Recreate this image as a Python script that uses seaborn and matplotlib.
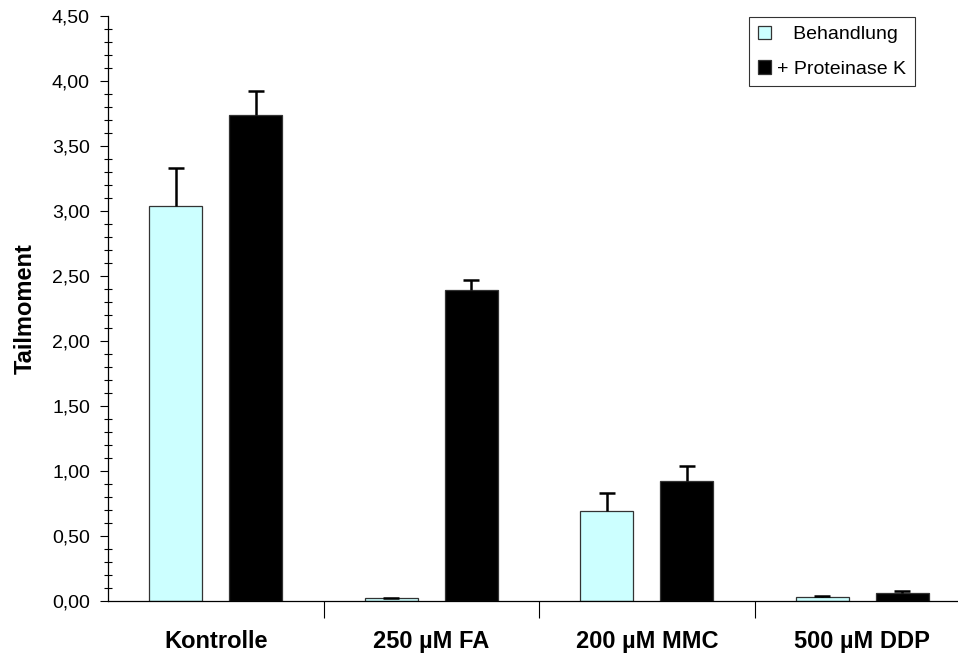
import numpy as np
import pandas as pd
import matplotlib
matplotlib.use("Agg")
import matplotlib.pyplot as plt
import seaborn as sns
from matplotlib.ticker import FuncFormatter, MultipleLocator, FixedLocator

categories = ["Kontrolle", "250 µM FA", "200 µM MMC", "500 µM DDP"]
series = ["Behandlung", "+ Proteinase K"]
behandlung = [3.04, 0.02, 0.69, 0.03]
behandlung_err = [0.29, 0.005, 0.14, 0.01]
proteinase = [3.74, 2.39, 0.92, 0.06]
proteinase_err = [0.18, 0.08, 0.12, 0.02]
colors = ["#CCFFFF", "#000000"]

sns.set_style("white")
plt.rcParams["font.family"] = ["Liberation Sans", "DejaVu Sans"]
for k in ["text.color", "axes.labelcolor", "xtick.color", "ytick.color"]:
    plt.rcParams[k] = "black"

df = pd.DataFrame({
    "Kategorie": categories * 2,
    "Serie": [series[0]] * 4 + [series[1]] * 4,
    "Wert": behandlung + proteinase,
})

fig = plt.figure(figsize=(9.58, 6.57), dpi=100)
ax = fig.add_axes([108 / 958, 56 / 657, (970 - 108) / 958, (601 - 16) / 657])

sns.barplot(data=df, x="Kategorie", y="Wert", hue="Serie", palette=colors,
            order=categories, hue_order=series, width=0.743, gap=0.337,
            saturation=1, edgecolor="#333333", linewidth=0.9, errorbar=None,
            ax=ax)

# error bars (upward only)
errs = [behandlung_err, proteinase_err]
vals = [behandlung, proteinase]
bar_containers = list(ax.containers)
for si, cont in enumerate(bar_containers):
    for bi, patch in enumerate(cont.patches):
        xc = patch.get_x() + patch.get_width() / 2
        eb = ax.errorbar(xc, vals[si][bi], yerr=[[0], [errs[si][bi]]], fmt="none",
                         ecolor="black", elinewidth=1.8, capsize=5.8, capthick=1.8,
                         zorder=1)
        caps = eb[1]
        if len(caps) == 2:
            caps[0].set_visible(False)

ax.set_ylim(0, 4.5)
ax.set_xlim(-0.5, 3.5)
ax.yaxis.set_major_locator(MultipleLocator(0.5))
ax.yaxis.set_minor_locator(MultipleLocator(0.1))
ax.yaxis.set_major_formatter(FuncFormatter(lambda v, p: f"{v:.2f}".replace(".", ",")))
ax.tick_params(axis="y", which="major", direction="out", length=6, width=0.8,
               labelsize=14, left=True, pad=7)
ax.tick_params(axis="y", which="minor", direction="inout", length=6, width=0.8, left=True)

# x: labels at centers, ticks at boundaries
ax.xaxis.set_major_locator(FixedLocator([0.5, 1.5, 2.5]))
ax.xaxis.set_minor_locator(FixedLocator([0, 1, 2, 3]))
ax.set_xticklabels([], minor=False)
ax.set_xticklabels(categories, minor=True, fontweight="bold", fontsize=17)
ax.tick_params(axis="x", which="major", direction="out", length=12, width=0.8, bottom=True)
ax.tick_params(axis="x", which="minor", length=0, pad=21)

ax.set_xlabel("")
ax.set_ylabel("Tailmoment", fontsize=17, fontweight="bold", labelpad=11)

for s in ["top", "right"]:
    ax.spines[s].set_visible(False)
for s in ["left", "bottom"]:
    ax.spines[s].set_color("black")
    ax.spines[s].set_linewidth(0.9)

handles, labels = ax.get_legend_handles_labels()
labels = ["   " + l if l == series[0] else l for l in labels]
leg = ax.legend(handles, labels, loc="upper left",
                bbox_to_anchor=(749 / 958, 1 - 17 / 657),
                bbox_transform=fig.transFigure, fontsize=14, frameon=True,
                fancybox=False, edgecolor="black", handlelength=0.7,
                handleheight=0.7, handletextpad=0.3, borderpad=0.45,
                labelspacing=0.85, borderaxespad=0)
leg.get_frame().set_linewidth(0.8)

fig.savefig("out.png", dpi=100)
